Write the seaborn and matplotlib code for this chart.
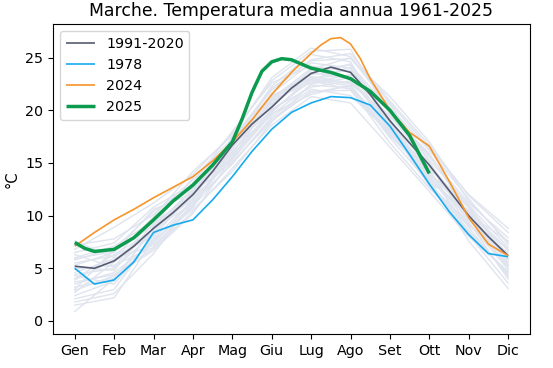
import numpy as np
import pandas as pd
import matplotlib
matplotlib.use("Agg")
import matplotlib.pyplot as plt
import seaborn as sns

mesi = ["Gen", "Feb", "Mar", "Apr", "Mag", "Giu", "Lug", "Ago", "Set", "Ott", "Nov", "Dic"]

# positions in months (0 = Gen, 11 = Dic)
x_half = [i / 2 for i in range(23)]

norm_1991_2020 = [5.2, 5.0, 5.7, 7.1, 8.8, 10.3, 12.0, 14.2, 16.7, 18.7, 20.3, 22.1,
                  23.5, 24.1, 23.6, 21.5, 19.0, 16.9, 14.8, 12.4, 10.0, 8.0, 6.2]
anno_1978 = [5.0, 3.5, 3.9, 5.6, 8.4, 9.1, 9.6, 11.5, 13.7, 16.1, 18.2, 19.8,
             20.7, 21.3, 21.2, 20.5, 18.5, 15.8, 13.0, 10.4, 8.2, 6.4, 6.1]

x_2024 = [0, 0.5, 1, 1.5, 2, 2.5, 3, 3.5, 4, 4.5, 5, 5.5, 6, 6.25, 6.5, 6.75, 7, 7.25,
          7.5, 8, 8.5, 9, 9.5, 10, 10.5, 11]
anno_2024 = [7.1, 8.4, 9.6, 10.6, 11.7, 12.7, 13.7, 15.2, 17.0, 19.1, 21.5, 23.6,
             25.4, 26.2, 26.8, 26.9, 26.3, 24.9, 23.0, 20.0, 17.9, 16.6, 13.3, 9.8, 7.3, 6.2]

x_2025 = [0, 0.25, 0.5, 1, 1.5, 2, 2.5, 3, 3.5, 4, 4.25, 4.5, 4.75, 5, 5.25, 5.5, 5.75,
          6, 6.5, 7, 7.5, 8, 8.5, 9]
anno_2025 = [7.45, 6.9, 6.6, 6.8, 7.9, 9.6, 11.4, 12.9, 14.8, 17.0, 19.2, 21.7, 23.7,
             24.6, 24.9, 24.8, 24.4, 24.0, 23.6, 23.0, 21.8, 20.0, 17.6, 14.0]

# other years (monthly means, one row per year)
altri_anni = [
    [3.2, 4.1, 7.5, 11.0, 15.8, 19.6, 22.4, 22.1, 18.0, 13.5, 9.8, 5.0],
    [5.8, 6.9, 9.0, 12.5, 16.0, 20.8, 23.0, 22.5, 19.5, 14.9, 10.3, 6.7],
    [2.1, 3.0, 8.1, 12.2, 15.1, 19.0, 21.8, 21.9, 17.6, 13.8, 8.9, 4.2],
    [4.6, 5.9, 7.2, 10.8, 16.7, 20.3, 23.6, 23.0, 18.9, 12.9, 9.1, 6.3],
    [6.3, 5.1, 9.7, 12.9, 15.4, 21.2, 22.9, 24.1, 19.8, 15.6, 11.2, 7.9],
    [1.8, 2.6, 6.4, 11.3, 14.9, 19.4, 22.0, 21.4, 17.9, 14.4, 8.2, 3.6],
    [4.0, 6.3, 8.6, 11.8, 16.3, 21.6, 24.5, 24.0, 19.1, 13.2, 10.5, 5.4],
    [7.2, 7.8, 10.1, 13.4, 17.0, 20.5, 23.9, 25.0, 20.3, 16.2, 11.6, 7.3],
    [3.7, 4.4, 6.9, 10.4, 14.5, 18.6, 21.3, 20.7, 16.5, 12.3, 8.0, 4.7],
    [5.1, 4.8, 9.3, 12.0, 17.4, 21.0, 22.6, 23.4, 20.6, 15.1, 9.6, 6.0],
    [2.7, 5.6, 8.4, 12.6, 16.9, 22.3, 25.3, 24.6, 18.4, 14.0, 10.8, 5.9],
    [6.8, 8.9, 11.2, 13.9, 17.8, 22.8, 25.6, 25.8, 19.6, 15.9, 10.1, 7.6],
    [4.3, 3.5, 7.8, 11.5, 15.6, 20.1, 22.2, 22.8, 18.7, 13.0, 9.3, 4.9],
    [0.9, 4.0, 8.8, 11.1, 16.1, 19.8, 23.2, 22.6, 19.2, 13.6, 9.9, 5.2],
    [5.5, 6.2, 8.0, 12.3, 17.2, 21.9, 24.8, 25.4, 20.9, 16.7, 11.9, 8.4],
    [3.0, 6.8, 10.4, 12.8, 16.5, 20.6, 23.4, 23.8, 18.2, 14.6, 10.0, 5.6],
    [4.9, 5.3, 7.0, 10.9, 15.0, 19.2, 21.7, 22.3, 17.4, 13.1, 8.6, 4.4],
    [6.0, 7.1, 9.5, 13.1, 18.0, 22.6, 24.2, 23.7, 19.9, 15.3, 11.0, 7.0],
    [2.4, 3.8, 8.9, 12.4, 15.9, 20.9, 23.8, 24.3, 20.1, 14.8, 9.4, 4.0],
    [5.3, 6.5, 10.6, 12.1, 16.6, 20.0, 22.8, 22.0, 16.9, 12.6, 9.0, 6.5],
    [3.5, 4.6, 7.4, 11.4, 17.5, 21.4, 23.1, 23.3, 19.4, 15.8, 10.7, 5.8],
    [7.6, 6.0, 9.9, 14.2, 17.6, 23.1, 25.9, 25.1, 20.7, 16.4, 12.0, 8.8],
    [1.5, 2.2, 7.7, 10.6, 14.2, 18.9, 22.5, 23.1, 18.1, 13.4, 7.6, 3.1],
    [4.4, 5.0, 8.3, 12.7, 16.4, 21.1, 24.0, 22.9, 18.6, 14.1, 9.2, 5.3],
    [5.9, 6.6, 9.1, 13.6, 17.3, 22.1, 24.7, 24.9, 21.3, 17.0, 11.4, 7.5],
    [3.9, 5.8, 8.7, 11.6, 15.3, 19.7, 21.5, 22.4, 17.7, 13.9, 10.4, 6.8],
    [6.5, 7.4, 10.8, 13.0, 16.8, 21.3, 23.5, 24.4, 19.0, 14.5, 10.9, 6.2],
    [2.9, 4.3, 6.7, 10.2, 15.5, 19.9, 22.9, 22.3, 18.3, 12.8, 8.4, 4.6],
]

rows = []
for k, vals in enumerate(altri_anni):
    for m, v in enumerate(vals):
        rows.append({"anno": k, "mese": m, "T": v})
df_bg = pd.DataFrame(rows)

fig, ax = plt.subplots(figsize=(5.53, 3.68), dpi=100)
fig.subplots_adjust(left=0.096, right=0.958, top=0.935, bottom=0.092)

sns.lineplot(data=df_bg, x="mese", y="T", units="anno", estimator=None,
             color="#dfe4ee", lw=1, legend=False, ax=ax, zorder=1)

kw = dict(solid_joinstyle="round", solid_capstyle="butt")
sns.lineplot(x=x_half, y=norm_1991_2020, color="#555b72", lw=1.2, label="1991-2020", ax=ax, zorder=3, **kw)
sns.lineplot(x=x_half, y=anno_1978, color="#17aaee", lw=1.2, label="1978", ax=ax, zorder=3, **kw)
sns.lineplot(x=x_2024, y=anno_2024, color="#f7952b", lw=1.2, label="2024", ax=ax, zorder=3, **kw)
sns.lineplot(x=x_2025, y=anno_2025, color="#0c9a4f", lw=2.5, label="2025", ax=ax, zorder=4, **kw)

ax.set_xticks(range(12))
ax.set_xticklabels(mesi, fontsize=10.3)
ax.tick_params(axis="y", labelsize=10.3)
ax.set_xlim(-0.55, 11.55)
ax.set_ylim(-1.25, 28.2)
ax.set_xlabel("")
ax.set_ylabel("°C", fontsize=10.5)
ax.set_title("Marche. Temperatura media annua 1961-2025", fontsize=12.4)
ax.legend(loc="upper left", fontsize=10.3)

fig.savefig("out.png", dpi=100)
